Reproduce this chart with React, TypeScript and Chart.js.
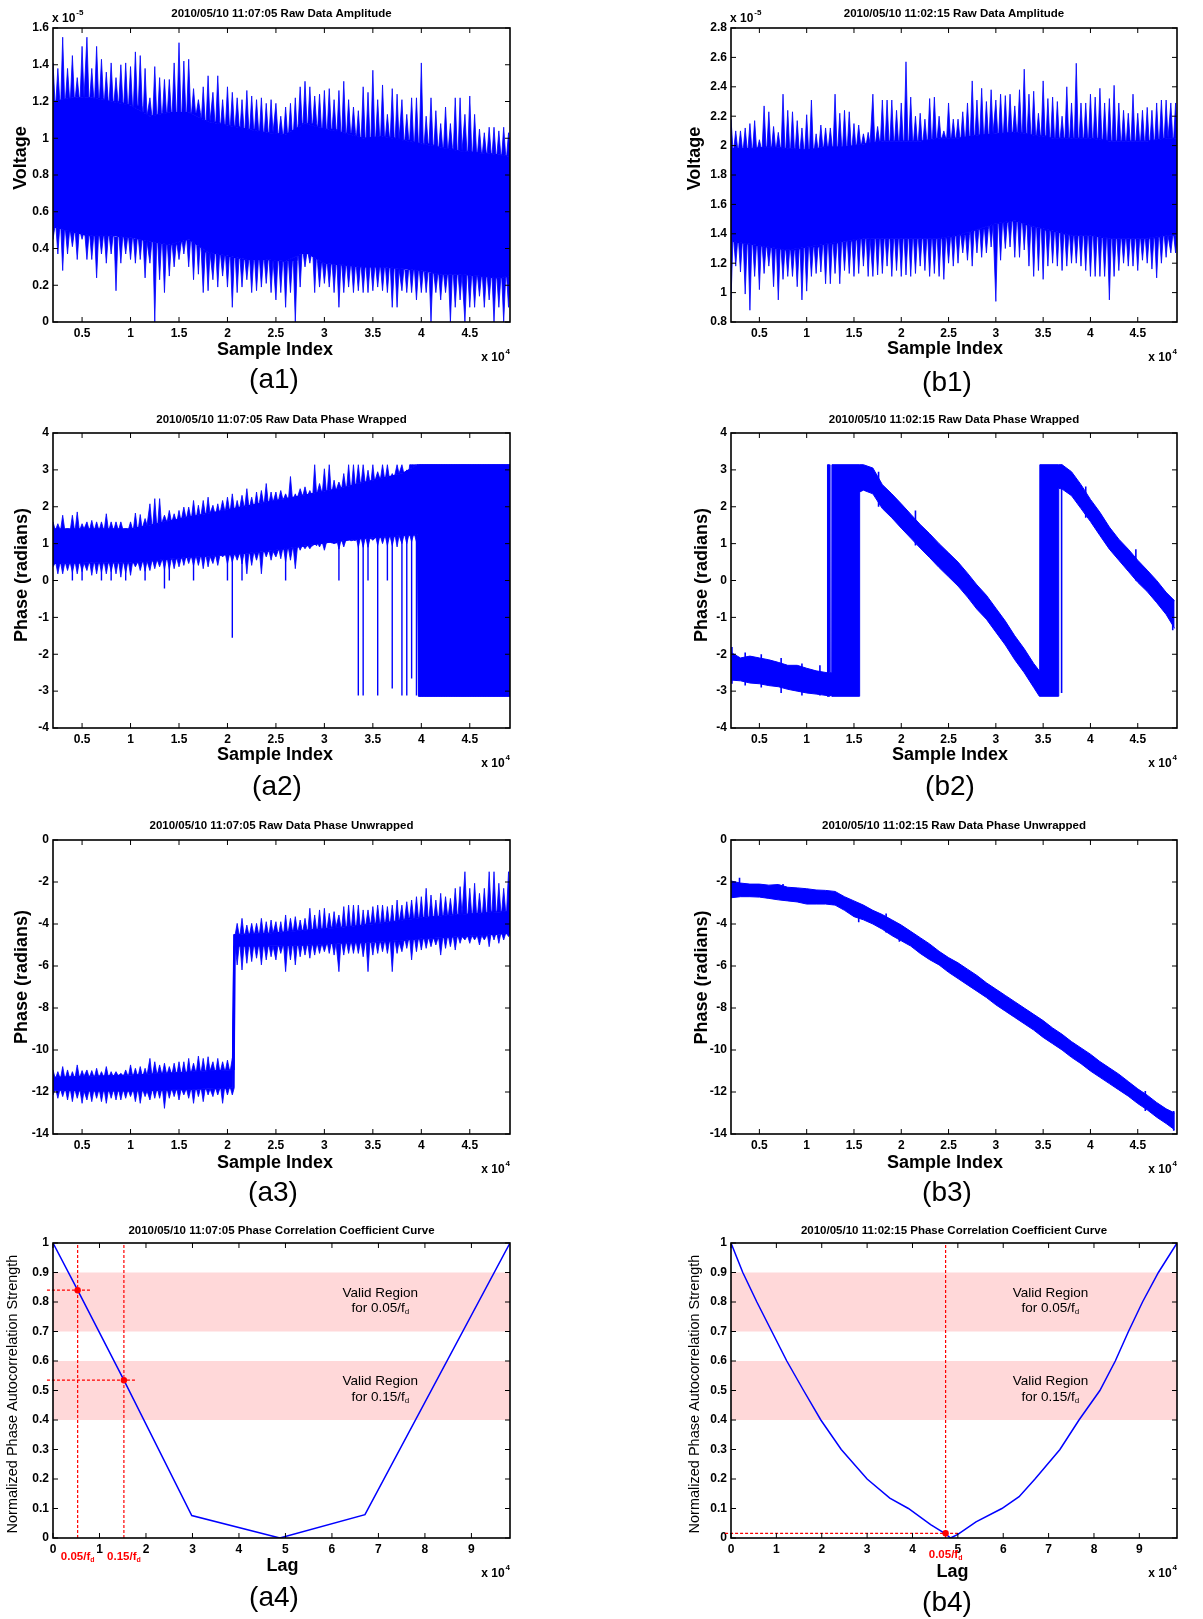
import React, { useEffect, useRef } from "react";
import { Chart, registerables } from "chart.js";

Chart.register(...registerables);

const FONT = "'Liberation Sans', Arial, Helvetica, sans-serif";
const BLUE = "#0000ff";
const RED = "#ff0000";
const PINK = "#ffd8d9";

// ---------- axes ----------
const SAMPLE_MIN = 2000;
const SAMPLE_MAX = 49150;
const SAMPLE_TICKS = [5000, 10000, 15000, 20000, 25000, 30000, 35000, 40000, 45000];
const LAG_MIN = 0;
const LAG_MAX = 98300;
const LAG_TICKS = [0, 10000, 20000, 30000, 40000, 50000, 60000, 70000, 80000, 90000];
const AMP_A_TICKS = [0, 0.2, 0.4, 0.6, 0.8, 1, 1.2, 1.4, 1.6];
const AMP_B_TICKS = [0.8, 1, 1.2, 1.4, 1.6, 1.8, 2, 2.2, 2.4, 2.6, 2.8];
const WRAPPED_TICKS = [-4, -3, -2, -1, 0, 1, 2, 3, 4];
const UNWRAPPED_TICKS = [-14, -12, -10, -8, -6, -4, -2, 0];
const CORR_TICKS = [0, 0.1, 0.2, 0.3, 0.4, 0.5, 0.6, 0.7, 0.8, 0.9, 1];

// noise peaks are sampled every 500 samples from index 2000
const PEAK_START = 2000;
const PEAK_STEP = 500;
// half base width of a drawn peak, in samples
const PEAK_HALF = 200;

// ---------- (a1) amplitude, 11:07:05 (x 1e-5 V) ----------
const A1_BAND_X = [2000, 4000, 6000, 8000, 10000, 12000, 14000, 16000, 18000, 20000, 22000, 24000, 26000, 28000, 30000, 32000, 34000, 36000, 38000, 40000, 42000, 44000, 46000, 48000, 49150];
const A1_BAND_HI = [1.2, 1.22, 1.22, 1.2, 1.18, 1.12, 1.14, 1.14, 1.09, 1.07, 1.05, 1.03, 1.02, 1.08, 1.05, 1.03, 1.0, 1.01, 0.99, 0.97, 0.95, 0.93, 0.92, 0.91, 0.9];
const A1_BAND_LO = [0.52, 0.49, 0.47, 0.47, 0.46, 0.44, 0.42, 0.45, 0.38, 0.36, 0.34, 0.34, 0.33, 0.38, 0.32, 0.31, 0.3, 0.3, 0.29, 0.28, 0.26, 0.26, 0.25, 0.24, 0.25];
const A1_PEAK_HI = [
  1.41, 1.38, 1.55, 1.38, 1.45, 1.33, 1.5, 1.55, 1.38, 1.5,
  1.43, 1.36, 1.41, 1.33, 1.4, 1.41, 1.39, 1.47, 1.45, 1.38,
  1.22, 1.39, 1.33, 1.32, 1.32, 1.41, 1.52, 1.42, 1.43, 1.27,
  1.21, 1.28, 1.34, 1.25, 1.34, 1.21, 1.28, 1.25, 1.22, 1.21,
  1.26, 1.23, 1.21, 1.22, 1.19, 1.21, 1.19, 1.12, 1.17, 1.19,
  1.22, 1.28, 1.31, 1.28, 1.23, 1.24, 1.26, 1.27, 1.21, 1.26,
  1.31, 1.21, 1.17, 1.15, 1.28, 1.25, 1.37, 1.21, 1.29, 1.13,
  1.27, 1.24, 1.21, 1.13, 1.22, 1.22, 1.41, 1.12, 1.22, 1.15,
  1.08, 1.17, 1.08, 1.22, 1.22, 1.13, 1.23, 1.13, 1.05, 1.03,
  1.06, 1.06, 1.04, 1.06, 1.03,
];
const A1_PEAK_LO = [
  0.45, 0.37, 0.28, 0.37, 0.41, 0.34, 0.45, 0.34, 0.34, 0.24,
  0.37, 0.32, 0.37, 0.17, 0.32, 0.37, 0.34, 0.32, 0.34, 0.24,
  0.32, 0.0, 0.23, 0.16, 0.25, 0.3, 0.34, 0.37, 0.3, 0.23,
  0.26, 0.16, 0.17, 0.23, 0.19, 0.25, 0.19, 0.08, 0.16, 0.19,
  0.23, 0.16, 0.17, 0.19, 0.21, 0.16, 0.12, 0.16, 0.08, 0.16,
  0.0, 0.19, 0.3, 0.32, 0.16, 0.19, 0.21, 0.19, 0.16, 0.08,
  0.16, 0.19, 0.16, 0.17, 0.16, 0.16, 0.17, 0.19, 0.17, 0.16,
  0.08, 0.08, 0.17, 0.16, 0.16, 0.12, 0.16, 0.16, 0.0, 0.16,
  0.12, 0.16, 0.0, 0.08, 0.12, 0.0, 0.08, 0.08, 0.14, 0.08,
  0.12, 0.0, 0.08, 0.0, 0.08,
];

// ---------- (b1) amplitude, 11:02:15 (x 1e-5 V) ----------
const B1_BAND_X = A1_BAND_X;
const B1_BAND_HI = [1.98, 1.98, 1.99, 1.98, 1.97, 1.99, 1.99, 2.01, 2.03, 2.03, 2.03, 2.05, 2.05, 2.07, 2.08, 2.09, 2.07, 2.05, 2.05, 2.05, 2.03, 2.03, 2.03, 2.05, 2.05];
const B1_BAND_LO = [1.35, 1.33, 1.31, 1.29, 1.31, 1.33, 1.35, 1.37, 1.37, 1.37, 1.37, 1.37, 1.39, 1.43, 1.47, 1.49, 1.45, 1.42, 1.39, 1.39, 1.37, 1.37, 1.37, 1.39, 1.39];
const B1_PEAK_HI = [
  2.18, 2.1, 2.1, 2.12, 2.15, 2.17, 2.04, 2.27, 2.23, 2.13,
  2.09, 2.35, 2.24, 2.23, 2.17, 2.12, 2.21, 2.31, 2.08, 2.14,
  2.12, 2.12, 2.35, 2.22, 2.24, 2.23, 2.15, 2.14, 2.08, 2.09,
  2.35, 2.13, 2.31, 2.31, 2.31, 2.24, 2.29, 2.57, 2.33, 2.2,
  2.22, 2.18, 2.32, 2.33, 2.2, 2.1, 2.29, 2.18, 2.18, 2.23,
  2.29, 2.44, 2.31, 2.39, 2.3, 2.38, 2.31, 2.35, 2.34, 2.35,
  2.27, 2.38, 2.52, 2.35, 2.37, 2.22, 2.44, 2.32, 2.33, 2.3,
  2.2, 2.4, 2.29, 2.56, 2.29, 2.29, 2.35, 2.33, 2.39, 2.29,
  2.32, 2.41, 2.29, 2.24, 2.22, 2.35, 2.22, 2.24, 2.26, 2.24,
  2.29, 2.31, 2.31, 2.29, 2.29,
];
const B1_PEAK_LO = [
  0.95, 1.18, 1.14, 0.99, 0.88, 1.11, 1.02, 1.13, 1.18, 1.04,
  0.95, 1.09, 1.11, 1.11, 1.04, 0.95, 1.01, 1.11, 1.13, 1.14,
  1.06, 1.06, 1.13, 1.06, 1.15, 1.13, 1.11, 1.13, 1.18, 1.11,
  1.11, 1.12, 1.13, 1.18, 1.11, 1.15, 1.11, 1.12, 1.11, 1.13,
  1.18, 1.15, 1.11, 1.13, 1.11, 1.09, 1.2, 1.18, 1.2, 1.27,
  1.22, 1.18, 1.27, 1.24, 1.27, 1.31, 0.94, 1.22, 1.3, 1.31,
  1.24, 1.24, 1.29, 1.18, 1.11, 1.15, 1.09, 1.18, 1.2, 1.18,
  1.15, 1.18, 1.2, 1.2, 1.18, 1.15, 1.11, 1.11, 1.11, 1.11,
  0.95, 1.11, 1.15, 1.2, 1.18, 1.18, 1.15, 1.22, 1.2, 1.16,
  1.1, 1.2, 1.24, 1.27, 1.27,
];

// ---------- (a2) wrapped phase, 11:07:05 ----------
const A2_BAND_X = [2000, 6000, 10000, 12000, 14000, 16000, 18000, 20000, 22000, 24000, 26000, 28000, 30000, 32000, 34000, 36000, 38000, 39600, 39700, 49150];
const A2_BAND_HI = [1.4, 1.4, 1.4, 1.5, 1.62, 1.72, 1.82, 1.92, 2.02, 2.12, 2.22, 2.32, 2.42, 2.52, 2.66, 2.78, 2.9, 3.14, 3.14, 3.14];
const A2_BAND_LO = [0.46, 0.48, 0.48, 0.53, 0.58, 0.63, 0.66, 0.7, 0.74, 0.79, 0.86, 0.94, 1.02, 1.08, 1.14, 1.18, 1.22, 1.24, -3.14, -3.14];
const A2_PEAK_HI = [
  1.59, 1.54, 1.77, 1.41, 1.77, 1.86, 1.54, 1.59, 1.63, 1.59,
  1.59, 1.81, 1.59, 1.59, 1.59, 1.41, 1.59, 1.83, 1.79, 1.68,
  2.08, 2.22, 2.22, 1.77, 1.9, 1.81, 1.9, 1.99, 1.99, 2.17,
  2.04, 2.17, 2.26, 2.04, 2.08, 2.17, 2.26, 2.35, 2.17, 2.31,
  2.49, 2.26, 2.4, 2.44, 2.63, 2.4, 2.4, 2.44, 2.35, 2.82,
  2.35, 2.49, 2.54, 2.44, 3.14, 2.63, 3.03, 3.14, 2.72, 2.67,
  2.9, 3.14, 3.14, 3.14, 3.14, 2.99, 3.14, 2.95, 3.14, 3.14,
  2.9, 3.14, 3.14, 3.0, 3.14, 3.14, 3.14, 3.14, 3.14, 3.14,
  3.14, 3.14, 3.14, 3.14, 3.14, 3.14, 3.14, 3.14, 3.14, 3.14,
  3.14, 3.14, 3.14, 3.14, 3.14,
];
const A2_PEAK_LO = [
  0.37, 0.18, 0.18, 0.27, 0.22, 0.18, 0.24, 0.27, 0.14, 0.18,
  0.22, 0.18, 0.24, 0.18, 0.09, 0.2, 0.14, 0.37, 0.27, 0.25,
  0.27, 0.32, 0.37, 0.3, 0.3, 0.32, 0.37, 0.41, 0.46, 0.4,
  0.41, 0.32, 0.37, 0.46, 0.41, 0.64, 0.45, 0.5, 0.55, 0.45,
  0.18, 0.41, 0.55, 0.18, 0.64, 0.55, 0.64, 0.59, 0.5, 0.55,
  0.32, 0.82, 0.86, 0.86, 1.0, 0.91, 0.82, 1.09, 1.0, 0.85,
  0.91, 1.27, 1.09, 0.9, 0.9, 0.9, 1.09, 0.95, 1.0, 0.95,
  0.95, 0.91, 1.0, 1.0, 1.05, 1.05, -3.14, -3.14, -3.14, -3.14,
  -3.14, -3.14, -3.14, -3.14, -3.14, -3.14, -3.14, -3.14, -3.14, -3.14,
  -3.14, -3.14, -3.14, -3.14, -3.14,
];
// isolated samples reaching far below the band
const A2_DROP_X = [4000, 5000, 7000, 8000, 9500, 11500, 13500, 14000, 16500, 20000, 20500, 21500, 26000, 31500, 33500, 34000, 34500, 35500, 36500, 37000, 38000, 38500, 39000, 39500];
const A2_DROP_LO = [0, 0, 0, 0, 0, 0, -0.22, 0, 0, 0, -1.55, 0, 0, 0, -3.12, -3.12, 0, -3.12, 0, -2.93, -3.12, -3.12, -2.66, -3.12];
const A2_DROP_HI = [1.3, 1.3, 1.3, 1.3, 1.3, 1.3, 1.3, 1.3, 1.3, 1.3, 1.3, 1.3, 1.3, 1.3, 1.3, 1.3, 1.3, 1.3, 1.3, 1.3, 1.3, 1.3, 1.3, 1.3];

// ---------- (b2) wrapped phase, 11:02:15 ----------
const B2_BAND_X = [2000, 3000, 4000, 5000, 6000, 7000, 8000, 9000, 10000, 11000, 12150, 12200, 12400, 12450, 12620, 12670, 15550, 15600, 16000, 17000, 18000, 19000, 20000, 21000, 22000, 23000, 24000, 25000, 26000, 27000, 28000, 29000, 30000, 31000, 32000, 33000, 34000, 34600, 34650, 36600, 36650, 37000, 38000, 39000, 40000, 41000, 42000, 43000, 44000, 45000, 46000, 47000, 48000, 48900];
const B2_BAND_HI = [-1.95, -2.1, -2.05, -2.1, -2.15, -2.22, -2.3, -2.3, -2.38, -2.45, -2.5, 3.14, 3.14, -2.5, -2.5, 3.14, 3.14, 3.14, 3.14, 3.05, 2.6, 2.35, 2.08, 1.8, 1.52, 1.27, 1.0, 0.75, 0.5, 0.2, -0.12, -0.4, -0.75, -1.1, -1.5, -1.85, -2.25, -2.45, 3.14, 3.14, 3.14, 3.14, 2.95, 2.6, 2.2, 1.85, 1.45, 1.12, 0.85, 0.55, 0.28, 0.0, -0.32, -0.55];
const B2_BAND_LO = [-2.7, -2.72, -2.78, -2.8, -2.85, -2.88, -2.95, -3.0, -3.05, -3.08, -3.12, -3.14, -3.14, -3.12, -3.12, -3.14, -3.14, 2.4, 2.45, 2.35, 1.95, 1.7, 1.42, 1.15, 0.88, 0.62, 0.35, 0.1, -0.15, -0.45, -0.78, -1.05, -1.4, -1.75, -2.15, -2.5, -2.9, -3.14, -3.14, -3.14, 2.5, 2.48, 2.3, 1.95, 1.6, 1.22, 0.85, 0.55, 0.25, -0.05, -0.3, -0.6, -0.92, -1.3];
const B2_DROP_X = [2100, 3500, 5200, 7300, 9500, 11400, 17600, 21500, 36950, 39500, 44800, 48700];
const B2_DROP_LO = [-2.8, -2.85, -2.9, -3.05, -3.12, -3.12, 2.0, 0.95, -3.05, 1.7, 0.0, -1.35];
const B2_DROP_HI = [-1.8, -1.95, -2.0, -2.1, -2.25, -2.3, 2.95, 1.9, 3.14, 2.55, 0.85, -0.5];

// ---------- (a3) unwrapped phase, 11:07:05 ----------
const A3_BAND_X = [2000, 6000, 10000, 14000, 18000, 20500, 20650, 24000, 28000, 32000, 36000, 40000, 44000, 49150];
const A3_BAND_HI = [-11.3, -11.25, -11.2, -11.1, -11.0, -10.95, -4.5, -4.45, -4.3, -4.15, -3.95, -3.7, -3.55, -3.4];
const A3_BAND_LO = [-11.9, -11.95, -11.95, -11.9, -11.85, -11.8, -5.05, -5.05, -5.0, -4.9, -4.85, -4.7, -4.6, -4.45];
const A3_PEAK_HI = [
  -10.95, -11.03, -10.79, -10.95, -11.03, -10.71, -10.98, -10.95, -10.98, -10.87,
  -11.03, -10.79, -11.03, -11.03, -11.11, -10.95, -10.71, -10.87, -10.79, -10.87,
  -10.4, -10.56, -10.71, -10.63, -10.79, -10.63, -10.56, -10.56, -10.4, -10.63,
  -10.29, -10.4, -10.32, -10.56, -10.4, -10.56, -10.48, -10.4,
  -3.97, -3.73,
  -4.05, -3.97, -3.97, -3.73, -3.89, -3.81, -3.89, -3.89, -3.57, -3.73,
  -3.65, -3.81, -3.73, -3.25, -3.57, -3.33, -3.25, -3.49, -3.41, -3.57,
  -3.17, -3.1, -3.1, -3.1, -3.33, -3.33, -3.17, -3.1, -3.1, -3.17,
  -3.1, -2.86, -3.1, -2.94, -2.86, -2.7, -2.7, -2.3, -2.62, -2.86,
  -2.54, -2.7, -2.78, -2.3, -2.22, -1.51, -2.3, -2.06, -2.54, -2.3,
  -1.51, -1.51, -2.06, -2.3, -1.51,
];
const A3_PEAK_LO = [
  -12.14, -12.3, -12.22, -12.38, -12.46, -12.3, -12.54, -12.38, -12.46, -12.3,
  -12.46, -12.54, -12.3, -12.38, -12.38, -12.3, -12.22, -12.46, -12.54, -12.22,
  -12.38, -12.3, -12.3, -12.78, -12.3, -12.22, -12.38, -12.14, -12.3, -12.54,
  -12.22, -12.46, -12.14, -12.22, -12.14, -12.54, -12.14, -12.14,
  -5.95, -6.19,
  -5.87, -5.79, -5.63, -5.95, -5.71, -5.56, -5.71, -5.4, -6.27, -5.71,
  -5.95, -5.56, -5.48, -5.63, -5.48, -5.4, -5.32, -5.4, -5.48, -6.27,
  -5.48, -5.4, -5.4, -5.4, -5.56, -6.27, -5.48, -5.4, -5.32, -5.4,
  -6.27, -5.4, -5.32, -5.16, -5.71, -5.32, -5.24, -5.16, -5.08, -5.0,
  -5.48, -5.16, -5.08, -5.24, -4.92, -4.76, -4.92, -4.76, -5.0, -4.76,
  -5.08, -4.76, -4.92, -4.76, -4.6,
];

// ---------- (b3) unwrapped phase, 11:02:15 ----------
const B3_BAND_X = [2000, 3000, 4000, 5000, 6000, 7000, 8000, 9000, 10000, 11000, 12000, 13000, 14000, 15000, 16000, 17000, 18000, 19000, 20000, 21000, 22000, 23000, 24000, 25000, 26000, 27000, 28000, 29000, 30000, 31000, 32000, 33000, 34000, 35000, 36000, 37000, 38000, 39000, 40000, 41000, 42000, 43000, 44000, 45000, 46000, 47000, 48000, 48900];
const B3_BAND_HI = [-1.95, -2.05, -2.1, -2.1, -2.15, -2.12, -2.25, -2.28, -2.32, -2.38, -2.4, -2.45, -2.7, -2.9, -3.1, -3.35, -3.55, -3.8, -4.05, -4.35, -4.65, -4.95, -5.3, -5.6, -5.85, -6.15, -6.45, -6.8, -7.1, -7.4, -7.7, -8.0, -8.3, -8.6, -8.95, -9.25, -9.6, -9.9, -10.2, -10.55, -10.85, -11.15, -11.5, -11.85, -12.15, -12.5, -12.8, -13.0];
const B3_BAND_LO = [-2.75, -2.7, -2.7, -2.72, -2.78, -2.85, -2.9, -2.95, -3.05, -3.05, -3.05, -3.1, -3.35, -3.65, -3.8, -4.0, -4.25, -4.55, -4.8, -5.05, -5.4, -5.7, -5.95, -6.3, -6.6, -6.9, -7.2, -7.5, -7.85, -8.15, -8.45, -8.75, -9.05, -9.4, -9.7, -10.0, -10.35, -10.65, -11.0, -11.3, -11.6, -11.9, -12.2, -12.55, -12.85, -13.2, -13.5, -13.8];
const B3_DROP_X = [2900, 7500, 12800, 15500, 18400, 19800, 45800, 48800];
const B3_DROP_LO = [-2.6, -2.8, -3.1, -3.92, -4.4, -4.85, -12.9, -13.85];
const B3_DROP_HI = [-1.8, -2.1, -2.5, -3.0, -3.5, -4.0, -11.95, -12.9];

// ---------- (a4)/(b4) phase autocorrelation ----------
const VALID_LO = [0.7, 0.4];
const VALID_HI = [0.9, 0.6];
const VALID_TEXT = ["0.05/f", "0.15/f"];
const NOTE_LAG = 70400;
const NOTE_Y = [[0.83, 0.78], [0.531, 0.478]];

const A4_LAG = [0, 5300, 15250, 29850, 48800, 67100, 98300];
const A4_R = [1.0, 0.84, 0.535, 0.076, 0.0, 0.079, 1.0];
const A4_MARK_LAG = [5300, 15250];
const A4_MARK_R = [0.84, 0.535];
const A4_GUIDE_END = [8000, 17800];
const A4_MARK_TEXT = ["0.05/f", "0.15/f"];

const B4_LAG = [0, 2600, 5700, 9000, 12300, 16000, 19800, 24300, 30000, 35000, 39100, 44000, 47200, 48400, 50000, 54000, 59700, 63500, 67000, 72500, 76700, 81300, 84700, 87600, 90700, 94200, 98300];
const B4_R = [1.0, 0.9, 0.8, 0.7, 0.6, 0.5, 0.4, 0.3, 0.2, 0.135, 0.1, 0.045, 0.015, 0.0, 0.012, 0.055, 0.1, 0.14, 0.2, 0.3, 0.4, 0.5, 0.6, 0.7, 0.8, 0.9, 1.0];
const B4_MARK_LAG = [47300];
const B4_MARK_R = [0.016];
const B4_GUIDE_END = [50000];
const B4_MARK_TEXT = ["0.05/f"];
const GUIDE_START = -1300;

// ---------- dataset builders ----------
const pts = (xs: number[], ys: number[]) => xs.map((x, i) => ({ x, y: ys[i] }));

function nearest(xs: number[], ys: number[], x: number) {
  let best = 0;
  for (let i = 1; i < xs.length; i++) if (Math.abs(xs[i] - x) < Math.abs(xs[best] - x)) best = i;
  return ys[best];
}

// each peak is drawn as a narrow spike rising from the dense band
function peakOutline(peaks: number[], bandX: number[], bandY: number[]) {
  const out: { x: number; y: number }[] = [];
  peaks.forEach((v, i) => {
    const x = PEAK_START + i * PEAK_STEP;
    const base = nearest(bandX, bandY, x);
    out.push({ x: x - PEAK_HALF, y: base }, { x, y: v }, { x: x + PEAK_HALF, y: base });
  });
  return out;
}

type Noise = {
  bandX: number[]; bandHi: number[]; bandLo: number[];
  peakHi?: number[]; peakLo?: number[];
  dropX: number[]; dropLo: number[]; dropHi: number[];
  dropWidth?: number;
};

function noiseSets(n: Noise) {
  const drops: any[] = [];
  n.dropX.forEach((x, i) => {
    drops.push({ x, y: n.dropLo[i] }, { x, y: n.dropHi[i] }, { x, y: null });
  });
  const sets: any[] = [
    { data: drops, borderColor: BLUE, borderWidth: n.dropWidth ?? 1.4, spanGaps: false, fill: false },
    { data: pts(n.bandX, n.bandHi), borderColor: BLUE, borderWidth: 1, fill: false },
    { data: pts(n.bandX, n.bandLo), borderColor: BLUE, borderWidth: 1, backgroundColor: BLUE, fill: "-1" },
  ];
  if (n.peakHi && n.peakLo) {
    sets.push(
      { data: peakOutline(n.peakHi, n.bandX, n.bandHi), borderColor: BLUE, borderWidth: 0.8, backgroundColor: BLUE, fill: "-2" },
      { data: peakOutline(n.peakLo, n.bandX, n.bandLo), borderColor: BLUE, borderWidth: 0.8, backgroundColor: BLUE, fill: "-2" },
    );
  }
  return sets;
}

function corrSets(lag: number[], r: number[], markLag: number[], markR: number[], guideEnd: number[]) {
  const dash = { borderColor: RED, borderWidth: 1.2, borderDash: [3, 2], fill: false };
  const sets: any[] = [
    {
      data: pts(markLag, markR),
      showLine: false, pointRadius: 3.2, pointBackgroundColor: RED, pointBorderColor: RED, pointBorderWidth: 0,
    },
    { data: pts(lag, r), borderColor: BLUE, borderWidth: 1.5, fill: false },
  ];
  markLag.forEach((x, i) => {
    sets.push({ ...dash, data: [{ x, y: 0 }, { x, y: 1 }] });
    sets.push({ ...dash, clip: false, data: [{ x: GUIDE_START, y: markR[i] }, { x: guideEnd[i], y: markR[i] }] });
  });
  return sets;
}

// ---------- layout ----------
const COLS = [
  { cx: 0, cw: 590, L: 53, R: 510 },
  { cx: 630, cw: 573, L: 731, R: 1177 },
];
const ROWS = [
  { cy: 0, ch: 400, T: 28, B: 322 },
  { cy: 400, ch: 408, T: 433, B: 728 },
  { cy: 808, ch: 402, T: 840, B: 1134 },
  { cy: 1210, ch: 409, T: 1243, B: 1538 },
];

type Spec = {
  key: string; col: number; row: number;
  title: string; titleY: number;
  xMin: number; xMax: number; xTicks: number[];
  yMin: number; yMax: number; yTicks: number[];
  yTitle: string; yTitlePos: [number, number]; yTitleFont: string;
  xTitle: string; xTitlePos: [number, number];
  tag: string; tagPos: [number, number];
  yExp?: string;
  datasets: any[];
  corr?: { markLag: number[]; texts: string[]; labelY: number };
};

const AXIS_FONT = `bold 18px ${FONT}`;
const CORR_AXIS_FONT = `14.5px ${FONT}`;

const SPECS: Spec[] = [
  {
    key: "a1", col: 0, row: 0, title: "2010/05/10 11:07:05 Raw Data Amplitude", titleY: 14,
    xMin: SAMPLE_MIN, xMax: SAMPLE_MAX, xTicks: SAMPLE_TICKS, yMin: 0, yMax: 1.6, yTicks: AMP_A_TICKS,
    yTitle: "Voltage", yTitlePos: [21, 158], yTitleFont: AXIS_FONT, xTitle: "Sample Index", xTitlePos: [275, 350],
    tag: "(a1)", tagPos: [274, 380], yExp: "-5",
    datasets: noiseSets({
      bandX: A1_BAND_X, bandHi: A1_BAND_HI, bandLo: A1_BAND_LO, peakHi: A1_PEAK_HI, peakLo: A1_PEAK_LO,
      dropX: [], dropLo: [], dropHi: [],
    }),
  },
  {
    key: "b1", col: 1, row: 0, title: "2010/05/10 11:02:15 Raw Data Amplitude", titleY: 13.5,
    xMin: SAMPLE_MIN, xMax: SAMPLE_MAX, xTicks: SAMPLE_TICKS, yMin: 0.8, yMax: 2.8, yTicks: AMP_B_TICKS,
    yTitle: "Voltage", yTitlePos: [695, 158.5], yTitleFont: AXIS_FONT, xTitle: "Sample Index", xTitlePos: [945, 349],
    tag: "(b1)", tagPos: [947, 383], yExp: "-5",
    datasets: noiseSets({
      bandX: B1_BAND_X, bandHi: B1_BAND_HI, bandLo: B1_BAND_LO, peakHi: B1_PEAK_HI, peakLo: B1_PEAK_LO,
      dropX: [], dropLo: [], dropHi: [],
    }),
  },
  {
    key: "a2", col: 0, row: 1, title: "2010/05/10 11:07:05 Raw Data Phase Wrapped", titleY: 420,
    xMin: SAMPLE_MIN, xMax: SAMPLE_MAX, xTicks: SAMPLE_TICKS, yMin: -4, yMax: 4, yTicks: WRAPPED_TICKS,
    yTitle: "Phase (radians)", yTitlePos: [21.7, 575], yTitleFont: AXIS_FONT, xTitle: "Sample Index", xTitlePos: [275, 755],
    tag: "(a2)", tagPos: [277, 787],
    datasets: noiseSets({
      bandX: A2_BAND_X, bandHi: A2_BAND_HI, bandLo: A2_BAND_LO, peakHi: A2_PEAK_HI, peakLo: A2_PEAK_LO,
      dropX: A2_DROP_X, dropLo: A2_DROP_LO, dropHi: A2_DROP_HI,
    }),
  },
  {
    key: "b2", col: 1, row: 1, title: "2010/05/10 11:02:15 Raw Data Phase Wrapped", titleY: 420,
    xMin: SAMPLE_MIN, xMax: SAMPLE_MAX, xTicks: SAMPLE_TICKS, yMin: -4, yMax: 4, yTicks: WRAPPED_TICKS,
    yTitle: "Phase (radians)", yTitlePos: [701.7, 575], yTitleFont: AXIS_FONT, xTitle: "Sample Index", xTitlePos: [950, 755],
    tag: "(b2)", tagPos: [950, 787],
    datasets: noiseSets({
      bandX: B2_BAND_X, bandHi: B2_BAND_HI, bandLo: B2_BAND_LO,
      dropX: B2_DROP_X, dropLo: B2_DROP_LO, dropHi: B2_DROP_HI, dropWidth: 1.6,
    }),
  },
  {
    key: "a3", col: 0, row: 2, title: "2010/05/10 11:07:05 Raw Data Phase Unwrapped", titleY: 826,
    xMin: SAMPLE_MIN, xMax: SAMPLE_MAX, xTicks: SAMPLE_TICKS, yMin: -14, yMax: 0, yTicks: UNWRAPPED_TICKS,
    yTitle: "Phase (radians)", yTitlePos: [21.7, 977], yTitleFont: AXIS_FONT, xTitle: "Sample Index", xTitlePos: [275, 1162.7],
    tag: "(a3)", tagPos: [273, 1193],
    datasets: noiseSets({
      bandX: A3_BAND_X, bandHi: A3_BAND_HI, bandLo: A3_BAND_LO, peakHi: A3_PEAK_HI, peakLo: A3_PEAK_LO,
      dropX: [], dropLo: [], dropHi: [],
    }),
  },
  {
    key: "b3", col: 1, row: 2, title: "2010/05/10 11:02:15 Raw Data Phase Unwrapped", titleY: 826,
    xMin: SAMPLE_MIN, xMax: SAMPLE_MAX, xTicks: SAMPLE_TICKS, yMin: -14, yMax: 0, yTicks: UNWRAPPED_TICKS,
    yTitle: "Phase (radians)", yTitlePos: [701.7, 977.5], yTitleFont: AXIS_FONT, xTitle: "Sample Index", xTitlePos: [945, 1162.7],
    tag: "(b3)", tagPos: [947, 1193],
    datasets: noiseSets({
      bandX: B3_BAND_X, bandHi: B3_BAND_HI, bandLo: B3_BAND_LO,
      dropX: B3_DROP_X, dropLo: B3_DROP_LO, dropHi: B3_DROP_HI, dropWidth: 1.6,
    }),
  },
  {
    key: "a4", col: 0, row: 3, title: "2010/05/10 11:07:05 Phase Correlation Coefficient Curve", titleY: 1230.7,
    xMin: LAG_MIN, xMax: LAG_MAX, xTicks: LAG_TICKS, yMin: 0, yMax: 1, yTicks: CORR_TICKS,
    yTitle: "Normalized Phase Autocorrelation Strength", yTitlePos: [12.7, 1394], yTitleFont: CORR_AXIS_FONT,
    xTitle: "Lag", xTitlePos: [282.5, 1566], tag: "(a4)", tagPos: [274, 1598],
    datasets: corrSets(A4_LAG, A4_R, A4_MARK_LAG, A4_MARK_R, A4_GUIDE_END),
    corr: { markLag: A4_MARK_LAG, texts: A4_MARK_TEXT, labelY: 1557 },
  },
  {
    key: "b4", col: 1, row: 3, title: "2010/05/10 11:02:15 Phase Correlation Coefficient Curve", titleY: 1230.7,
    xMin: LAG_MIN, xMax: LAG_MAX, xTicks: LAG_TICKS, yMin: 0, yMax: 1, yTicks: CORR_TICKS,
    yTitle: "Normalized Phase Autocorrelation Strength", yTitlePos: [695, 1394], yTitleFont: CORR_AXIS_FONT,
    xTitle: "Lag", xTitlePos: [952.5, 1572], tag: "(b4)", tagPos: [947, 1603],
    datasets: corrSets(B4_LAG, B4_R, B4_MARK_LAG, B4_MARK_R, B4_GUIDE_END),
    corr: { markLag: B4_MARK_LAG, texts: B4_MARK_TEXT, labelY: 1555 },
  },
];

// ---------- text helpers ----------
function textWithSub(ctx: CanvasRenderingContext2D, main: string, sub: string, x: number, y: number, size: number, weight: string, color: string) {
  const f1 = `${weight} ${size}px ${FONT}`;
  const f2 = `${weight} ${Math.round(size * 0.6)}px ${FONT}`;
  ctx.font = f1;
  const w1 = ctx.measureText(main).width;
  ctx.font = f2;
  const w2 = ctx.measureText(sub).width;
  const x0 = x - (w1 + w2) / 2;
  ctx.fillStyle = color;
  ctx.textAlign = "left";
  ctx.textBaseline = "middle";
  ctx.font = f1;
  ctx.fillText(main, x0, y);
  ctx.font = f2;
  ctx.fillText(sub, x0 + w1, y + size * 0.3);
}

function powerLabel(ctx: CanvasRenderingContext2D, exp: string, x: number, y: number, align: "left" | "right") {
  const f1 = `bold 12px ${FONT}`;
  const f2 = `bold 8px ${FONT}`;
  ctx.font = f1;
  const w1 = ctx.measureText("x 10").width;
  ctx.font = f2;
  const w2 = ctx.measureText(exp).width;
  const x0 = align === "left" ? x : x - w1 - w2 - 1;
  ctx.fillStyle = "#000";
  ctx.textAlign = "left";
  ctx.textBaseline = "alphabetic";
  ctx.font = f1;
  ctx.fillText("x 10", x0, y);
  ctx.font = f2;
  ctx.fillText(exp, x0 + w1 + 1, y - 7);
}

function decorPlugin(spec: Spec) {
  const { cx } = COLS[spec.col];
  const { cy } = ROWS[spec.row];
  return {
    id: "decor",
    beforeDatasetsDraw(chart: any) {
      if (!spec.corr) return;
      const { ctx, chartArea: a, scales } = chart;
      ctx.save();
      ctx.fillStyle = PINK;
      VALID_LO.forEach((lo, i) => {
        const y1 = scales.y.getPixelForValue(VALID_HI[i]);
        const y2 = scales.y.getPixelForValue(lo);
        ctx.fillRect(a.left, y1, a.right - a.left, y2 - y1);
      });
      ctx.restore();
    },
    afterDraw(chart: any) {
      const { ctx, chartArea: a, scales } = chart;
      ctx.save();
      // axes box
      ctx.strokeStyle = "#000";
      ctx.lineWidth = 1.6;
      ctx.strokeRect(a.left, a.top, a.right - a.left, a.bottom - a.top);
      // inward tick marks on all four sides
      ctx.lineWidth = 1;
      ctx.beginPath();
      for (const t of scales.x.ticks) {
        const px = scales.x.getPixelForValue(t.value);
        ctx.moveTo(px, a.bottom);
        ctx.lineTo(px, a.bottom - 5);
        ctx.moveTo(px, a.top);
        ctx.lineTo(px, a.top + 5);
      }
      for (const t of scales.y.ticks) {
        const py = scales.y.getPixelForValue(t.value);
        ctx.moveTo(a.left, py);
        ctx.lineTo(a.left + 5, py);
        ctx.moveTo(a.right, py);
        ctx.lineTo(a.right - 5, py);
      }
      ctx.stroke();

      // title
      ctx.fillStyle = "#000";
      ctx.textAlign = "center";
      ctx.textBaseline = "middle";
      ctx.font = `bold 11.5px ${FONT}`;
      ctx.fillText(spec.title, (a.left + a.right) / 2, spec.titleY - cy);

      // axis titles
      ctx.font = AXIS_FONT;
      ctx.fillText(spec.xTitle, spec.xTitlePos[0] - cx, spec.xTitlePos[1] - cy);
      ctx.save();
      ctx.translate(spec.yTitlePos[0] - cx, spec.yTitlePos[1] - cy);
      ctx.rotate(-Math.PI / 2);
      ctx.font = spec.yTitleFont;
      ctx.fillText(spec.yTitle, 0, 0);
      ctx.restore();

      // panel tag
      ctx.font = `28px ${FONT}`;
      ctx.textAlign = "center";
      ctx.textBaseline = "middle";
      ctx.fillText(spec.tag, spec.tagPos[0] - cx, spec.tagPos[1] - cy);

      // exponent labels
      powerLabel(ctx, "4", a.right, a.bottom + 39, "right");
      if (spec.yExp) powerLabel(ctx, spec.yExp, a.left - 1, a.top - 6, "left");

      if (spec.corr) {
        const xs = scales.x;
        const ys = scales.y;
        const nx = xs.getPixelForValue(NOTE_LAG);
        NOTE_Y.forEach((pair, i) => {
          ctx.fillStyle = "#000";
          ctx.textAlign = "center";
          ctx.textBaseline = "middle";
          ctx.font = `13.5px ${FONT}`;
          ctx.fillText("Valid Region", nx, ys.getPixelForValue(pair[0]));
          textWithSub(ctx, "for " + VALID_TEXT[i], "d", nx, ys.getPixelForValue(pair[1]), 13.5, "normal", "#000");
        });
        spec.corr.markLag.forEach((lag, i) => {
          textWithSub(ctx, spec.corr!.texts[i], "d", xs.getPixelForValue(lag), spec.corr!.labelY - cy, 11.5, "bold", RED);
        });
      }
      ctx.restore();
    },
  };
}

function Panel({ spec }: { spec: Spec }) {
  const ref = useRef<HTMLCanvasElement>(null);
  const { cx, cw, L, R } = COLS[spec.col];
  const { cy, ch, T, B } = ROWS[spec.row];

  useEffect(() => {
    if (!ref.current) return;
    const tickFont = { family: FONT, size: 12, weight: "bold" as const };
    const chart = new Chart(ref.current, {
      type: "line",
      data: { datasets: spec.datasets },
      options: {
        responsive: false,
        maintainAspectRatio: false,
        animation: false,
        events: [],
        layout: { padding: { left: 0, right: cx + cw - R, top: T - cy, bottom: 0 } },
        elements: { point: { radius: 0 }, line: { tension: 0 } },
        plugins: { legend: { display: false }, tooltip: { enabled: false }, title: { display: false } },
        scales: {
          x: {
            type: "linear",
            min: spec.xMin,
            max: spec.xMax,
            offset: false,
            grid: { display: false, drawTicks: false },
            border: { display: false },
            ticks: {
              font: tickFont,
              color: "#000",
              padding: 4,
              autoSkip: false,
              maxRotation: 0,
              callback: (v: any) => String(Math.round(Number(v) / 1000) / 10),
            },
            afterBuildTicks: (s: any) => {
              s.ticks = spec.xTicks.map((value) => ({ value }));
            },
            afterFit: (s: any) => {
              s.height = cy + ch - B;
              s.paddingLeft = 0;
              s.paddingRight = 0;
            },
          },
          y: {
            type: "linear",
            min: spec.yMin,
            max: spec.yMax,
            grid: { display: false, drawTicks: false },
            border: { display: false },
            ticks: {
              font: tickFont,
              color: "#000",
              padding: 4,
              autoSkip: false,
              callback: (v: any) => String(Math.round(Number(v) * 100) / 100),
            },
            afterBuildTicks: (s: any) => {
              s.ticks = spec.yTicks.map((value) => ({ value }));
            },
            afterFit: (s: any) => {
              s.width = L - cx;
              s.paddingTop = 0;
              s.paddingBottom = 0;
            },
          },
        },
      } as any,
      plugins: [decorPlugin(spec)],
    });
    return () => chart.destroy();
  }, [spec]);

  return (
    <canvas
      ref={ref}
      width={cw}
      height={ch}
      style={{ position: "absolute", left: cx, top: cy, width: cw, height: ch }}
    />
  );
}

export default function App() {
  return (
    <div style={{ position: "absolute", left: 0, top: 0, width: 1203, height: 1619, background: "#fff", overflow: "hidden" }}>
      {SPECS.map((s) => (
        <Panel key={s.key} spec={s} />
      ))}
    </div>
  );
}
